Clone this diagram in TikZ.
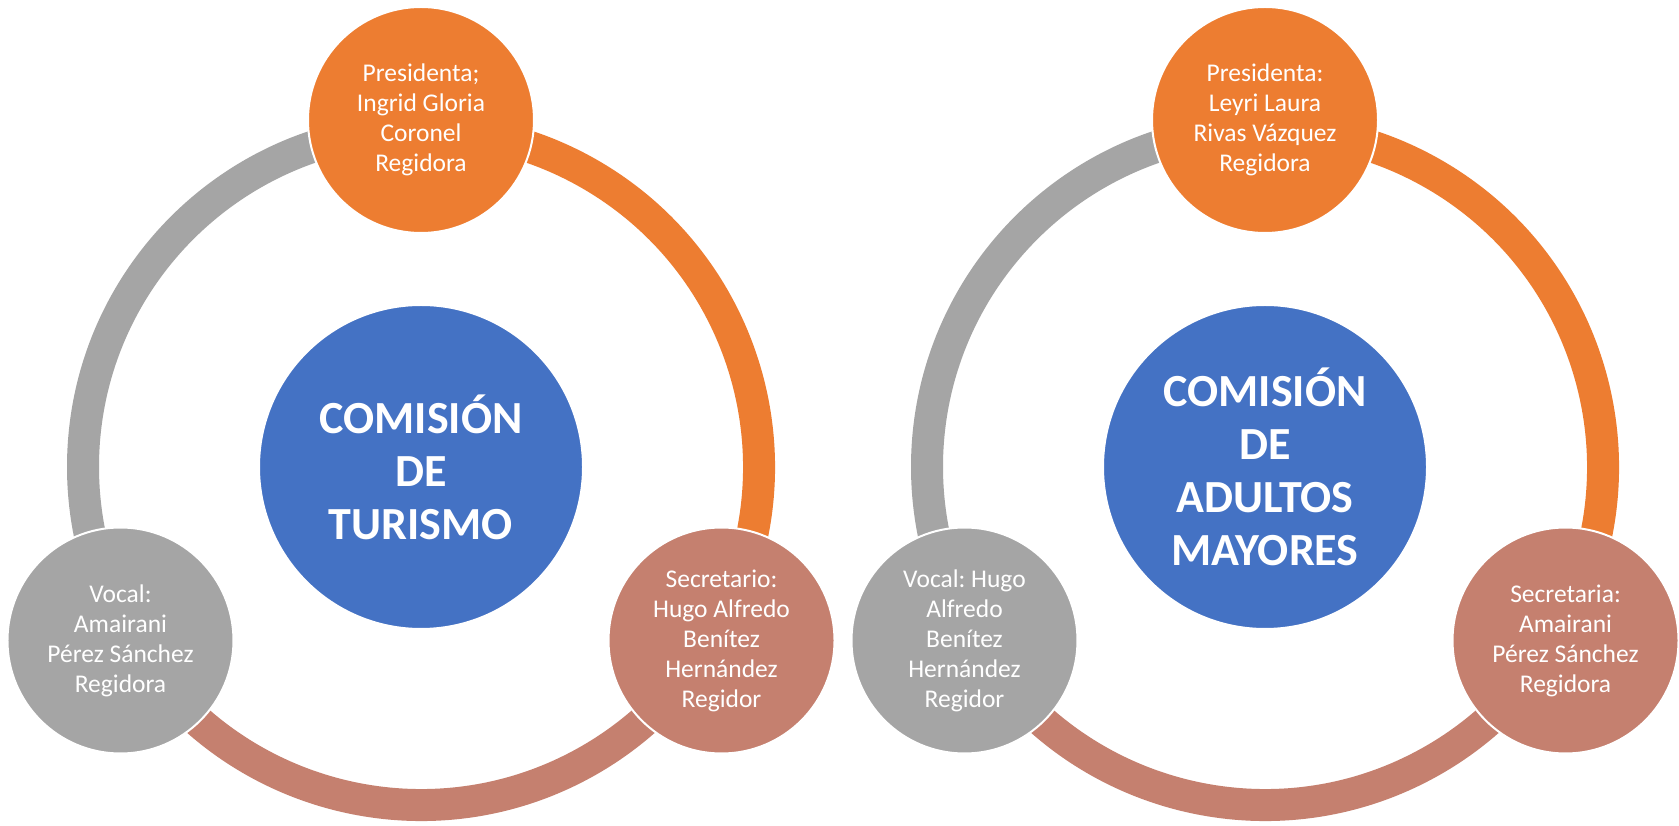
\documentclass[tikz,border=0pt]{standalone}
\usepackage{fontspec}
\setmainfont{Carlito}
\frenchspacing
\definecolor{corange}{HTML}{ED7D31}
\definecolor{cblue}{HTML}{4472C4}
\definecolor{cgray}{HTML}{A5A5A5}
\definecolor{crose}{HTML}{C5806F}
\begin{document}
\begin{tikzpicture}[x=1pt,y=1pt,
  member/.style={circle, minimum size=226pt, inner sep=0pt, draw=white, line width=2pt,
    text=white, align=center, font=\fontsize{25.5}{30}\selectfont},
  hub/.style={circle, minimum size=324pt, inner sep=0pt, draw=white, line width=2pt,
    fill=cblue, text=white, align=center, font=\bfseries\fontsize{46}{53}\selectfont},
  band/.style={line width=32pt}]
\useasboundingbox (0,0) rectangle (1679,825);
\fill[white] (0,0) rectangle (1679,825);
% ---------- left cycle ----------
\begin{scope}[shift={(421,358)}]
  \coordinate (pL) at (90:338);
  \coordinate (sL) at (-30:338);
  \coordinate (vL) at (210:338);
  \draw[band, cgray] (pL) arc[start angle=90, end angle=210, radius=338];
  \draw[band, corange] (sL) arc[start angle=-30, end angle=90, radius=338];
  \draw[band, crose] (vL) arc[start angle=210, end angle=330, radius=338];
  \node[hub] (hubL) at (0,0) {COMISIÓN\\DE\\TURISMO};
  \node[member, fill=corange] (presL) at (90:347) {Presidenta;\\Ingrid Gloria\\Coronel\\Regidora};
  \node[member, fill=crose] (secL) at (-30:347) {Secretario:\\Hugo Alfredo\\Benítez\\Hernández\\Regidor};
  \node[member, fill=cgray] (vocL) at (210:347) {Vocal:\\Amairani\\Pérez Sánchez\\Regidora};
\end{scope}
% ---------- right cycle ----------
\begin{scope}[shift={(1265,358)}]
  \coordinate (pR) at (90:338);
  \coordinate (sR) at (-30:338);
  \coordinate (vR) at (210:338);
  \draw[band, cgray] (pR) arc[start angle=90, end angle=210, radius=338];
  \draw[band, corange] (sR) arc[start angle=-30, end angle=90, radius=338];
  \draw[band, crose] (vR) arc[start angle=210, end angle=330, radius=338];
  \node[hub] (hubR) at (0,0) {COMISIÓN\\DE\\ADULTOS\\MAYORES};
  \node[member, fill=corange] (presR) at (90:347) {Presidenta:\\Leyri Laura\\Rivas Vázquez\\Regidora};
  \node[member, fill=crose] (secR) at (-30:347) {Secretaria:\\Amairani\\Pérez Sánchez\\Regidora};
  \node[member, fill=cgray] (vocR) at (210:347) {Vocal: Hugo\\Alfredo\\Benítez\\Hernández\\Regidor};
\end{scope}
\end{tikzpicture}
\end{document}
